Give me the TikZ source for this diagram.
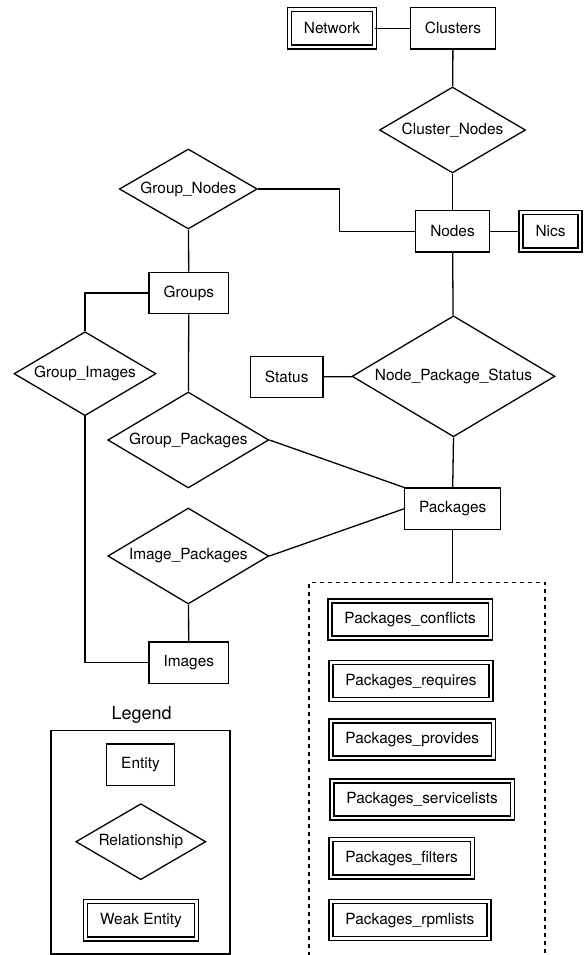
\documentclass[tikz,border=0pt]{standalone}
\usepackage{fontspec}
\setmainfont{TeX Gyre Heros}
\usetikzlibrary{shapes.geometric}
\begin{document}
\begin{tikzpicture}[x=1pt,y=-1pt,
  line width=1.3pt,
  font=\fontsize{15.4}{18}\selectfont,
  entity/.style={draw, rectangle, inner xsep=14.5pt, inner ysep=0pt, minimum height=41.5pt},
  weakentity/.style={draw, rectangle, double, double distance=2.7pt, inner xsep=14.5pt, inner ysep=0pt, minimum height=37.2pt},
  relation/.style={draw, diamond, inner sep=0pt, shape aspect=1.7},
  groupbox/.style={dash pattern=on 4pt off 4pt}
]
\useasboundingbox (0,0) rectangle (584,955);

% Entities
\node[weakentity] (network) at (332,28.3) {Network};
\node[entity] (clusters) at (453,28.3) {Clusters};
\node[relation, minimum width=146pt, minimum height=86pt] (cnodes) at (452.5,130) {Cluster\_Nodes};
\node[entity] (nodes) at (452.5,231.3) {Nodes};
\node[weakentity] (nics) at (550.5,231.3) {Nics};
\node[relation, minimum width=138pt, minimum height=80pt] (gnodes) at (188.3,189) {Group\_Nodes};
\node[entity] (groups) at (188.8,293) {Groups};
\node[relation, minimum width=142pt, minimum height=84pt] (gimages) at (85,373.7) {Group\_Images};
\node[relation, minimum width=161pt, minimum height=96pt] (gpackages) at (188.3,440) {Group\_Packages};
\node[entity] (status) at (286.7,377) {Status};
\node[relation, minimum width=203pt, minimum height=121pt] (nps) at (453.5,376.3) {Node\_Package\_Status};
\node[entity] (packages) at (452.7,508.8) {Packages};
\node[relation, minimum width=161pt, minimum height=96pt] (ipackages) at (188.3,556) {Image\_Packages};
\node[entity] (images) at (188.8,662.8) {Images};

% Package detail tables
\coordinate (pgtl) at (309,582.7);
\coordinate (pgtr) at (545,582.7);
\coordinate (pgbl) at (309,956);
\coordinate (pgbr) at (545,956);
\draw[groupbox] (pgbl) -- (pgtl) -- (pgtr) -- (pgbr);
\node[weakentity, anchor=west] (pconflicts) at (329.3,619.5) {Packages\_conflicts};
\node[weakentity, anchor=west] (prequires) at (330.3,681.2) {Packages\_requires};
\node[weakentity, anchor=west] (pprovides) at (330.3,739.5) {Packages\_provides};
\node[weakentity, anchor=west] (pservice) at (331.3,799.5) {Packages\_servicelists};
\node[weakentity, anchor=west] (pfilters) at (330.3,858.3) {Packages\_filters};
\node[weakentity, anchor=west] (prpm) at (330.3,920.2) {Packages\_rpmlists};

% Connectors
\draw (network) -- (clusters);
\draw (clusters) -- (cnodes);
\draw (cnodes) -- (nodes);
\draw (nodes) -- (nics);
\coordinate (gnbend) at (339.3,189);
\draw (gnodes.east) -- (gnbend) |- (nodes.west);
\draw (gnodes) -- (groups);
\draw (groups.west) -| (gimages.north);
\draw (groups) -- (gpackages);
\draw (gimages.south) |- (images.west);
\draw (status) -- (nps);
\draw (nodes) -- (nps);
\draw (nps.south) -- (packages.north);
\draw (gpackages.east) -- (packages.north west);
\draw (ipackages.east) -- (packages.west);
\draw (ipackages) -- (images);
\draw (packages.south) -- (packages.south |- pgtl);

% Legend
\node[font=\fontsize{18}{21}\selectfont] (legendtitle) at (141.7,715) {Legend};
\draw (51,730.7) rectangle (230,954);
\node[entity] (lentity) at (140.5,764.7) {Entity};
\node[relation, minimum width=130pt, minimum height=76pt] (lrel) at (140.8,841.7) {Relationship};
\node[weakentity] (lweak) at (141,920.3) {Weak Entity};
\end{tikzpicture}
\end{document}
